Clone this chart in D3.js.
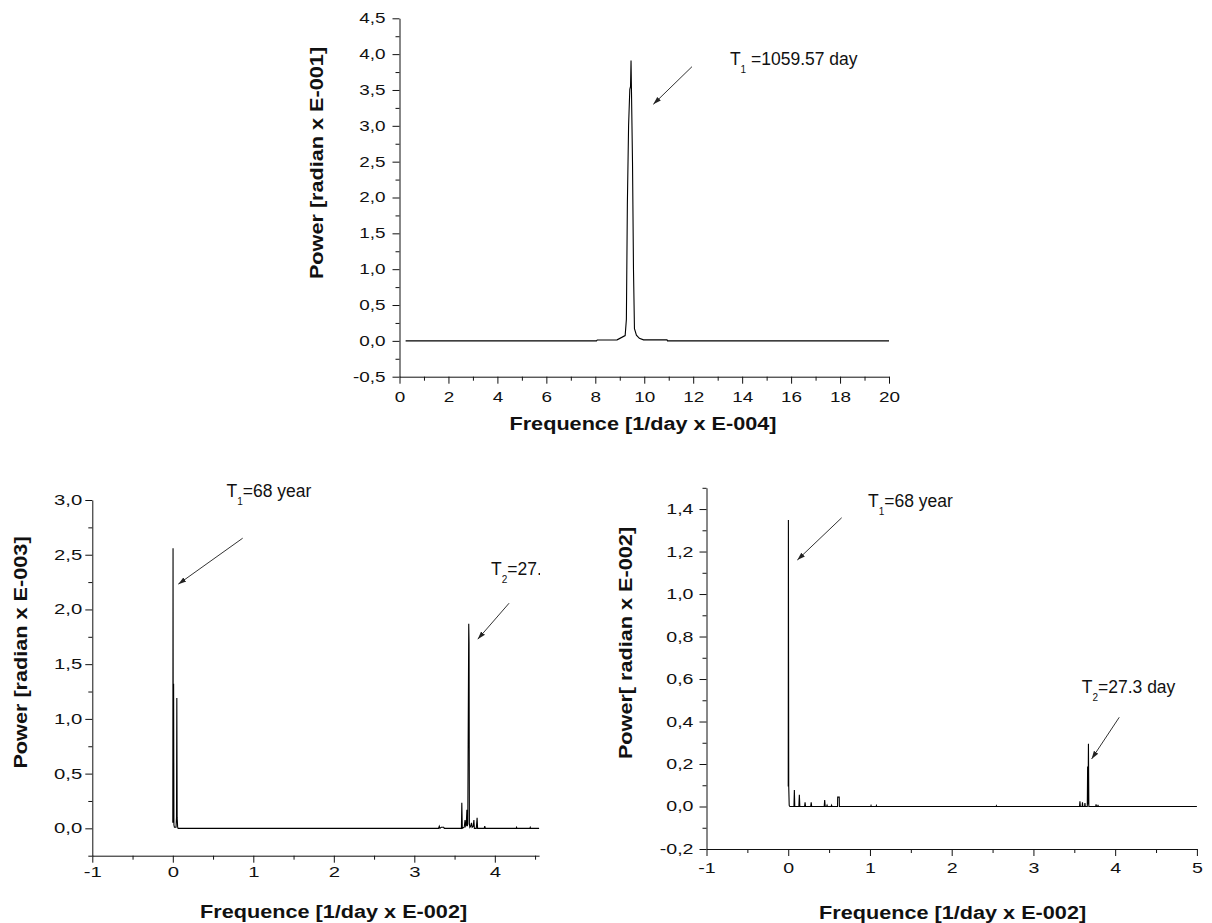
<!DOCTYPE html>
<html>
<head>
<meta charset="utf-8">
<script src="https://cdn.jsdelivr.net/npm/d3@7"></script>
<style>
  html, body { margin: 0; padding: 0; background: #fff; }
  svg { display: block; }
</style>
</head>
<body>
<svg id="fig" width="1212" height="923"></svg>
<script>
// ---------- Panel A: spectrum, frequency in 1/day x E-004, power in radian x E-001 ----------
const spectrumA = [
  [0.25, 0.000], [8.05, 0.000], [8.08, 0.012], [8.89, 0.014], [9.22, 0.074],
  [9.27, 0.300], [9.31, 1.900], [9.36, 3.000], [9.41, 3.510], [9.44, 3.550],
  [9.46, 3.910], [9.48, 3.440], [9.52, 2.500], [9.56, 1.000], [9.60, 0.170],
  [9.68, 0.080], [9.80, 0.035], [9.97, 0.014], [10.93, 0.014], [10.95, 0.000],
  [20.00, 0.000]
];
const xTicksA = [0, 2, 4, 6, 8, 10, 12, 14, 16, 18, 20];
const xMinorA = [1, 3, 5, 7, 9, 11, 13, 15, 17, 19];
const yTicksA = [-0.5, 0, 0.5, 1, 1.5, 2, 2.5, 3, 3.5, 4, 4.5];
const yMinorA = [-0.25, 0.25, 0.75, 1.25, 1.75, 2.25, 2.75, 3.25, 3.75, 4.25];
const notesA = [
  { sub: "1", text: " =1059.57 day", at: [13.50, 3.85], tail: [11.95, 3.825], tip: [10.37, 3.30] }
];

// ---------- Panel B: spectrum, frequency in 1/day x E-002, power in radian x E-003 ----------
const spectrumB = [
  [0.000, 0.05], [0.003, 2.56], [0.006, 0.05], [0.010, 1.32], [0.014, 0.03],
  [0.020, 0.01], [0.040, 0.01], [0.046, 0.10], [0.050, 1.19], [0.054, 0.10],
  [0.060, 0.01], [0.066, 0.00], [3.300, 0.00], [3.310, 0.02], [3.318, 0.00],
  [3.335, 0.01], [3.365, 0.01], [3.372, 0.00], [3.585, 0.00], [3.590, 0.234],
  [3.596, 0.00], [3.620, 0.01], [3.630, 0.076], [3.638, 0.02], [3.645, 0.03],
  [3.653, 0.17], [3.658, 0.02], [3.664, 0.04], [3.676, 1.87], [3.680, 1.70],
  [3.684, 0.04], [3.690, 0.01], [3.700, 0.02], [3.710, 0.05], [3.718, 0.01],
  [3.732, 0.02], [3.740, 0.076], [3.746, 0.00], [3.770, 0.00], [3.780, 0.097],
  [3.786, 0.00], [3.868, 0.00], [3.875, 0.02], [3.882, 0.00], [4.265, 0.00],
  [4.270, 0.01], [4.275, 0.00], [4.435, 0.00], [4.440, 0.01], [4.445, 0.00],
  [4.550, 0.00]
];
const xTicksB = [-1, 0, 1, 2, 3, 4];
const xMinorB = [-0.5, 0.5, 1.5, 2.5, 3.5, 4.5];
const yTicksB = [0, 0.5, 1, 1.5, 2, 2.5, 3];
const yMinorB = [-0.25, 0.25, 0.75, 1.25, 1.75, 2.25, 2.75];
const notesB = [
  { sub: "1", text: "=68 year", at: [0.667, 3.03], tail: [0.868, 2.651], tip: [0.068, 2.231] },
  { sub: "2", text: "=27.3 day", at: [3.953, 2.317], tail: [4.177, 2.057], tip: [3.788, 1.728] }
];

// ---------- Panel C: spectrum, frequency in 1/day x E-002, power in radian x E-002 ----------
const spectrumC = [
  [0.000, 0.094], [0.002, 1.348], [0.004, 0.680], [0.006, 0.094], [0.012, 0.005],
  [0.020, 0.000], [0.070, 0.000], [0.075, 0.078], [0.080, 0.000], [0.130, 0.000],
  [0.136, 0.055], [0.142, 0.000], [0.200, 0.000], [0.206, 0.020], [0.212, 0.000],
  [0.275, 0.000], [0.281, 0.020], [0.287, 0.000], [0.440, 0.000], [0.446, 0.031],
  [0.452, 0.000], [0.470, 0.000], [0.475, 0.006], [0.480, 0.000], [0.525, 0.000],
  [0.530, 0.006], [0.535, 0.000], [0.603, 0.000], [0.605, 0.044], [0.624, 0.044],
  [0.626, 0.000], [1.010, 0.000], [1.013, 0.004], [1.016, 0.000], [1.076, 0.000],
  [1.079, 0.004], [1.082, 0.000], [2.544, 0.000], [2.547, 0.003], [2.550, 0.000],
  [3.564, 0.000], [3.569, 0.025], [3.574, 0.000], [3.596, 0.000], [3.600, 0.020],
  [3.604, 0.000], [3.626, 0.000], [3.630, 0.016], [3.634, 0.000], [3.659, 0.000],
  [3.663, 0.188], [3.668, 0.010], [3.673, 0.295], [3.678, 0.000], [3.762, 0.000],
  [3.766, 0.010], [3.772, 0.000], [3.786, 0.000], [3.790, 0.008], [3.794, 0.000],
  [5.000, 0.000]
];
const xTicksC = [-1, 0, 1, 2, 3, 4, 5];
const xMinorC = [-0.5, 0.5, 1.5, 2.5, 3.5, 4.5];
const yTicksC = [-0.2, 0, 0.2, 0.4, 0.6, 0.8, 1, 1.2, 1.4];
const yMinorC = [-0.1, 0.1, 0.3, 0.5, 0.7, 0.9, 1.1, 1.3, 1.5];
const notesC = [
  { sub: "1", text: "=68 year", at: [0.976, 1.409], tail: [0.654, 1.359], tip: [0.111, 1.160] },
  { sub: "2", text: "=27.3 day", at: [3.591, 0.534], tail: [4.050, 0.420], tip: [3.712, 0.224] }
];

// ---------- drawing ----------
const svg = d3.select("#fig");
const FONT = "'Liberation Sans', Arial, Helvetica, sans-serif";
const commaFmt = v => v.toFixed(1).replace(".", ",");
const intFmt = v => String(v);

const defs = svg.append("defs");
defs.append("marker")
  .attr("id", "arrowhead")
  .attr("viewBox", "0 0 10 10")
  .attr("refX", 10).attr("refY", 5)
  .attr("markerWidth", 8).attr("markerHeight", 8)
  .attr("markerUnits", "userSpaceOnUse")
  .attr("orient", "auto")
  .append("path")
  .attr("d", "M0,1.8 L10,5 L0,8.2 Z")
  .attr("fill", "#222");

function stretchTicks(sel, k) {
  sel.selectAll(".tick text").attr("transform", function () {
    const tx = +this.getAttribute("x") || 0;
    return `translate(${tx},0) scale(${k},1) translate(${-tx},0)`;
  });
}

function drawPanel(cfg) {
  const x = d3.scaleLinear().domain(cfg.xDomain).range([cfg.left, cfg.right]);
  const y = d3.scaleLinear().domain(cfg.yDomain).range([cfg.bottom, cfg.top]);
  const g = svg.append("g");

  // minor ticks
  g.append("g")
    .attr("transform", `translate(0,${cfg.bottom})`)
    .call(d3.axisBottom(x).tickValues(cfg.xMinor).tickSize(4).tickFormat(""))
    .call(s => s.select(".domain").remove());
  g.append("g")
    .attr("transform", `translate(${cfg.left},0)`)
    .call(d3.axisLeft(y).tickValues(cfg.yMinor).tickSize(4).tickFormat(""))
    .call(s => s.select(".domain").remove());

  // major ticks with labels
  const gx = g.append("g")
    .attr("transform", `translate(0,${cfg.bottom})`)
    .call(d3.axisBottom(x).tickValues(cfg.xTicks).tickSizeInner(7).tickSizeOuter(0)
      .tickPadding(cfg.xPad).tickFormat(cfg.xFmt));
  const gy = g.append("g")
    .attr("transform", `translate(${cfg.left},0)`)
    .call(d3.axisLeft(y).tickValues(cfg.yTicks).tickSizeInner(7).tickSizeOuter(0)
      .tickPadding(cfg.yPad).tickFormat(cfg.yFmt));

  [gx, gy].forEach(a => {
    a.attr("font-family", FONT).attr("font-size", 14);
    a.selectAll("line, path").attr("stroke", "#111").attr("stroke-width", 1);
    a.selectAll("text").attr("fill", "#111");
    stretchTicks(a, cfg.tickStretch);
  });
  g.selectAll("line").attr("stroke", "#111");

  // axis titles
  g.append("text")
    .attr("transform", `translate(${cfg.xTitle[0]},${cfg.xTitle[1]}) scale(1.14,1)`)
    .attr("text-anchor", "middle")
    .attr("font-family", FONT).attr("font-weight", "bold").attr("font-size", 19)
    .attr("fill", "#111")
    .text(cfg.xLabel);
  g.append("text")
    .attr("transform", `translate(${cfg.yTitle[0] + 5},${cfg.yTitle[1]}) rotate(-90) scale(1.14,1)`)
    .attr("text-anchor", "middle")
    .attr("font-family", FONT).attr("font-weight", "bold").attr("font-size", 19)
    .attr("fill", "#111")
    .text(cfg.yLabel);

  // spectrum line
  const line = d3.line().x(d => x(d[0])).y(d => y(d[1]));
  g.append("path")
    .datum(cfg.data)
    .attr("d", line)
    .attr("fill", "none")
    .attr("stroke", "#000")
    .attr("stroke-width", 1.1)
    .attr("stroke-linejoin", "miter");

  // peak annotations
  const noteLayer = g.append("g");
  if (cfg.clipRight) {
    const id = "clip-" + cfg.name;
    defs.append("clipPath").attr("id", id)
      .append("rect").attr("x", 0).attr("y", 0).attr("width", cfg.clipRight).attr("height", 923);
    noteLayer.attr("clip-path", `url(#${id})`);
  }
  cfg.notes.forEach(n => {
    const t = noteLayer.append("text")
      .attr("x", x(n.at[0])).attr("y", y(n.at[1]))
      .attr("font-family", FONT).attr("font-size", 17.5)
      .attr("fill", "#111");
    t.append("tspan").text("T");
    t.append("tspan").attr("font-size", 10).attr("dy", 8).text(n.sub);
    t.append("tspan").attr("dy", -8).text(n.text);
    g.append("line")
      .attr("x1", x(n.tail[0])).attr("y1", y(n.tail[1]))
      .attr("x2", x(n.tip[0])).attr("y2", y(n.tip[1]))
      .attr("stroke", "#333").attr("stroke-width", 1)
      .attr("marker-end", "url(#arrowhead)");
  });
}

drawPanel({
  name: "a", data: spectrumA, notes: notesA,
  xDomain: [0, 20], yDomain: [-0.5, 4.5],
  left: 399.5, right: 889, top: 18.3, bottom: 376.7,
  xTicks: xTicksA, xMinor: xMinorA, yTicks: yTicksA, yMinor: yMinorA,
  xFmt: intFmt, yFmt: commaFmt, xPad: 8, yPad: 7, tickStretch: 1.35,
  xLabel: "Frequence [1/day x E-004]", yLabel: "Power [radian x E-001]",
  xTitle: [643, 430], yTitle: [317.8, 163]
});

drawPanel({
  name: "b", data: spectrumB, notes: notesB, clipRight: 540,
  xDomain: [-1, 4.55], yDomain: [-0.25, 3.0],
  left: 92.3, right: 539.1, top: 500, bottom: 855.7,
  xTicks: xTicksB, xMinor: xMinorB, yTicks: yTicksB, yMinor: yMinorB,
  xFmt: intFmt, yFmt: commaFmt, xPad: 4, yPad: 3, tickStretch: 1.45,
  xLabel: "Frequence [1/day x E-002]", yLabel: "Power [radian x E-003]",
  xTitle: [333.6, 917.5], yTitle: [21.5, 652.5]
});

drawPanel({
  name: "c", data: spectrumC, notes: notesC,
  xDomain: [-1, 5], yDomain: [-0.2, 1.5],
  left: 706.5, right: 1196.9, top: 487.8, bottom: 849,
  xTicks: xTicksC, xMinor: xMinorC, yTicks: yTicksC, yMinor: yMinorC,
  xFmt: intFmt, yFmt: commaFmt, xPad: 7, yPad: 6, tickStretch: 1.4,
  xLabel: "Frequence [1/day x E-002]", yLabel: "Power[ radian x E-002]",
  xTitle: [952.6, 919], yTitle: [627.2, 643]
});
</script>
</body>
</html>
